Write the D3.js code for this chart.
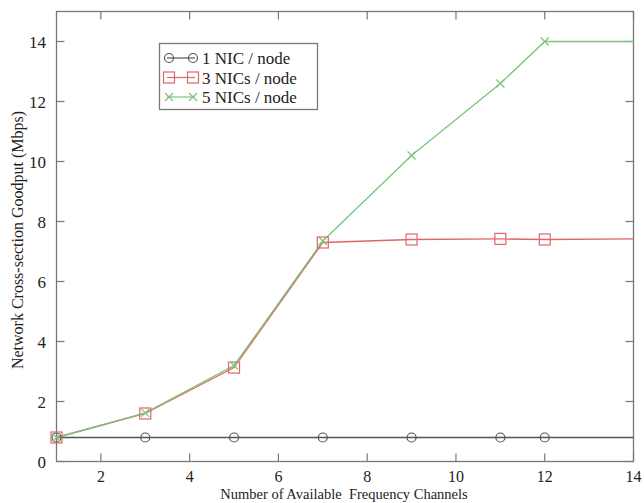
<!DOCTYPE html>
<html><head><meta charset="utf-8">
<script src="https://cdn.jsdelivr.net/npm/d3@7"></script>
<style>body{margin:0;background:#fff}svg{display:block}</style>
</head><body><svg id="c" width="644" height="503"></svg>
<script>
const xTicks = [2,4,6,8,10,12,14];
const yTicks = [0,2,4,6,8,10,12,14];
const nic1X = [1,3,5,7,9,11,12,14];
const nic1Y = [0.8,0.8,0.8,0.8,0.8,0.8,0.8,0.8];
const nic3X = [1,3,5,7,9,11,12,14];
const nic3Y = [0.8,1.6,3.13,7.3,7.4,7.42,7.4,7.42];
const nic5X = [1,3,5,7,9,11,12,14];
const nic5Y = [0.8,1.62,3.2,7.35,10.2,12.6,14.0,14.0];
const seriesNames = ["1 NIC / node","3 NICs / node","5 NICs / node"];
const colors = ["#555555","#e06666","#7cc47c"];
const shapes = ["circle","square","cross"];
const FONT = "'Liberation Serif','Times New Roman','DejaVu Serif',serif";

const svg = d3.select("#c");
const x = d3.scaleLinear().domain([1,14]).range([56.5,633.5]);
const y = d3.scaleLinear().domain([0,15]).range([461.5,11.5]);

svg.append("rect").attr("x",x(1)).attr("y",y(15)).attr("width",x(14)-x(1)).attr("height",y(0)-y(15))
  .attr("fill","none").attr("stroke","#777").attr("stroke-width",1.3);

const tl = 8;
const g = svg.append("g").attr("stroke","#777").attr("stroke-width",1.2);
xTicks.forEach(t=>{
  g.append("line").attr("x1",x(t)).attr("x2",x(t)).attr("y1",y(0)).attr("y2",y(0)-tl);
  g.append("line").attr("x1",x(t)).attr("x2",x(t)).attr("y1",y(15)).attr("y2",y(15)+tl);
});
yTicks.forEach(t=>{
  g.append("line").attr("y1",y(t)).attr("y2",y(t)).attr("x1",x(1)).attr("x2",x(1)+tl);
  g.append("line").attr("y1",y(t)).attr("y2",y(t)).attr("x1",x(14)).attr("x2",x(14)-tl);
});
svg.selectAll(".xl").data(xTicks).enter().append("text").attr("x",d=>x(d)).attr("y",482)
  .attr("text-anchor","middle").attr("font-family",FONT).attr("font-size",16).attr("fill","#222").text(d=>d);
svg.selectAll(".yl").data(yTicks).enter().append("text").attr("x",46).attr("y",d=>y(d)+6)
  .attr("text-anchor","end").attr("font-family",FONT).attr("font-size",17).attr("fill","#222").text(d=>d);
svg.append("text").attr("x",344).attr("y",499).attr("text-anchor","middle").attr("font-family",FONT).attr("font-size",14.5).attr("fill","#222")
  .attr("xml:space","preserve").text("Number of Available  Frequency Channels");
svg.append("text").attr("transform","translate(23,240) rotate(-90)").attr("text-anchor","middle").attr("font-family",FONT).attr("font-size",16).attr("fill","#222")
  .text("Network Cross-section Goodput (Mbps)");

const data = [[nic1X,nic1Y],[nic3X,nic3Y],[nic5X,nic5Y]];
const line = d3.line().x(d=>x(d[0])).y(d=>y(d[1]));
function marker(sel, shape, color, cx, cy){
  if(shape==="circle") sel.append("circle").attr("cx",cx).attr("cy",cy).attr("r",4.5).attr("fill","none").attr("stroke",color).attr("stroke-width",1.2);
  else if(shape==="square") sel.append("rect").attr("x",cx-5.5).attr("y",cy-5.5).attr("width",11).attr("height",11).attr("fill","none").attr("stroke",color).attr("stroke-width",1.2);
  else { sel.append("path").attr("d",`M${cx-4},${cy-4}L${cx+4},${cy+4}M${cx-4},${cy+4}L${cx+4},${cy-4}`).attr("stroke",color).attr("stroke-width",1.2); }
}
data.forEach((s,i)=>{
  const pts = s[0].map((v,j)=>[v,s[1][j]]);
  svg.append("path").datum(pts).attr("d",line).attr("fill","none").attr("stroke",colors[i]).attr("stroke-width",1.3);
});
data.forEach((s,i)=>{
  const gm = svg.append("g");
  s[0].forEach((v,j)=>{ if(v<14) marker(gm, shapes[i], colors[i], x(v), y(s[1][j])); });
});

const lg = svg.append("g");
lg.append("rect").attr("x",159.5).attr("y",43.5).attr("width",158).attr("height",66).attr("fill","#fff").attr("stroke","#777").attr("stroke-width",1.3);
seriesNames.forEach((n,i)=>{
  const cy = 58 + i*19.5;
  lg.append("line").attr("x1",167).attr("x2",195).attr("y1",cy).attr("y2",cy).attr("stroke",colors[i]).attr("stroke-width",1.2);
  marker(lg, shapes[i], colors[i], 169, cy);
  marker(lg, shapes[i], colors[i], 193, cy);
  lg.append("text").attr("x",202).attr("y",cy+6).attr("font-family",FONT).attr("font-size",17).attr("fill","#222").text(n);
});
</script></body></html>
